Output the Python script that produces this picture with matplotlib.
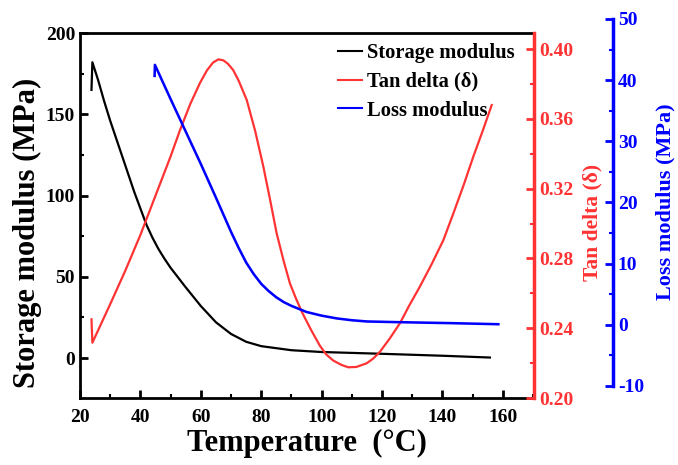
import matplotlib
matplotlib.use("Agg")
import matplotlib.pyplot as plt
from matplotlib.ticker import MultipleLocator, FormatStrFormatter

plt.rcParams['font.family'] = ['Liberation Serif', 'DejaVu Serif']
plt.rcParams['font.weight'] = 'bold'
plt.rcParams['axes.unicode_minus'] = False

# ---- data ----
T_storage = [23.8, 24.1, 26.0, 28.0, 30.0, 32.0, 34.0, 36.0, 38.0, 40.0, 42.0, 44.0,
             46.0, 48.0, 50.0, 55.0, 60.0, 65.0, 70.0, 75.0, 80.0, 90.0, 100.0,
             120.0, 140.0, 155.7]
storage = [165.0, 182.0, 171.0, 158.0, 146.0, 135.0, 124.0, 113.0, 102.0, 92.0, 82.0,
           74.0, 67.0, 61.0, 55.5, 43.5, 32.0, 22.0, 14.8, 10.0, 7.3, 4.8, 3.7,
           2.6, 1.4, 0.3]

T_tan = [23.8, 24.1, 30.0, 35.0, 40.0, 45.0, 50.0, 53.1, 56.5, 59.7, 62.0,
         64.0, 65.8, 67.5, 69.0, 70.7, 72.5, 75.2, 78.0, 80.7, 83.0, 85.1, 87.5,
         89.5, 91.5, 93.4, 96.5, 99.4, 101.5, 103.8, 106.5, 108.8, 111.5, 114.9,
         117.0, 119.3, 122.5, 125.9, 129.0, 132.5, 136.5, 140.3, 143.6, 147.0,
         150.2, 153.5, 156.3]
tan_delta = [0.2451, 0.2317, 0.2538, 0.2730, 0.2935, 0.3160, 0.3385, 0.3535,
             0.3685, 0.3805, 0.3877, 0.3922, 0.3941, 0.3935, 0.3915, 0.3880, 0.3820,
             0.3708, 0.3530, 0.3326, 0.3130, 0.2944, 0.2780, 0.2657, 0.2570, 0.2495,
             0.2390, 0.2300, 0.2250, 0.2215, 0.2190, 0.2176, 0.2178, 0.2199, 0.2225,
             0.2265, 0.2340, 0.2428, 0.2530, 0.2638, 0.2770, 0.2905, 0.3058, 0.3220,
             0.3383, 0.3540, 0.3679]

T_loss = [44.7, 44.8, 50.0, 55.0, 60.0, 65.0, 70.0, 72.5, 75.0, 77.5, 80.0, 82.5,
          85.0, 87.5, 90.0, 95.0, 100.0, 105.0, 110.0, 115.0, 125.0, 142.5, 158.5]
loss = [40.7, 42.5, 36.9, 31.6, 26.3, 20.8, 15.2, 12.6, 10.2, 8.3, 6.7, 5.5, 4.5,
        3.7, 3.1, 2.1, 1.5, 1.05, 0.75, 0.55, 0.44, 0.28, 0.1]

x_ticks = [20, 40, 60, 80, 100, 120, 140, 160]
left_ticks = [0, 50, 100, 150, 200]
tan_ticks = [0.20, 0.24, 0.28, 0.32, 0.36, 0.40]
loss_ticks = [-10, 0, 10, 20, 30, 40, 50]

W, H = 678, 465
fig = plt.figure(figsize=(W / 100, H / 100), dpi=100)

L, R, B, Tp = 80, 534, 398, 33
ax = fig.add_axes([L / W, 1 - B / H, (R - L) / W, (B - Tp) / H])
ax2 = ax.twinx()
lb, lt = 386, 19
ax3 = fig.add_axes([L / W, 1 - lb / H, (R - L) / W, (lb - lt) / H])
ax3.patch.set_visible(False)

red = '#ff3333'
blue = '#0000ff'
lw = 1.6
l1, = ax.plot(T_storage, storage, color='black', lw=lw, label='Storage modulus')
l2, = ax2.plot(T_tan, tan_delta, color=red, lw=lw, label='Tan delta (δ)')
l3, = ax3.plot(T_loss, loss, color=blue, lw=lw * 1.15, label='Loss modulus')

ax.set_xlim(20, 170.3)
ax3.set_xlim(20, 170.3)
ax.set_ylim(-24.6, 200)
ax2.set_ylim(0.20, 0.4092)
ax3.set_ylim(-10, 50)

tick_fs = 14
sw = 2.0
# main axes
ax.set_xticks(x_ticks)
ax.set_yticks(left_ticks)
ax.xaxis.set_minor_locator(MultipleLocator(10))
ax.yaxis.set_minor_locator(MultipleLocator(25))
ax.tick_params(axis='both', which='major', direction='in', length=6, width=2,
               labelsize=tick_fs, colors='black')
ax.tick_params(axis='both', which='minor', direction='in', length=3, width=1.5)
ax.tick_params(axis='x', pad=8)
for s in ['left', 'bottom', 'top']:
    ax.spines[s].set_linewidth(sw)
ax.spines['right'].set_visible(False)

# tan axis
ax2.set_yticks(tan_ticks)
ax2.yaxis.set_major_formatter(FormatStrFormatter('%.2f'))
ax2.yaxis.set_minor_locator(MultipleLocator(0.02))
ax2.tick_params(axis='y', which='major', direction='in', length=6, width=2,
                labelsize=tick_fs, colors=red)
ax2.tick_params(axis='y', which='minor', direction='in', length=3, width=1.5, colors=red)
for s in ['left', 'bottom', 'top']:
    ax2.spines[s].set_visible(False)
ax2.spines['right'].set_color(red)
ax2.spines['right'].set_linewidth(sw + 0.5)

# loss axis
for s in ['left', 'bottom', 'top']:
    ax3.spines[s].set_visible(False)
ax3.spines['right'].set_position(('axes', (613 - L) / (R - L)))
ax3.spines['right'].set_color(blue)
ax3.spines['right'].set_linewidth(sw + 0.5)
ax3.yaxis.set_ticks_position('right')
ax3.yaxis.set_label_position('right')
ax3.set_xticks([])
ax3.set_yticks(loss_ticks)
ax3.yaxis.set_minor_locator(MultipleLocator(5))
ax3.tick_params(axis='y', which='major', direction='in', length=6, width=2,
                labelsize=tick_fs, colors=blue)
ax3.tick_params(axis='y', which='minor', direction='in', length=3, width=1.5, colors=blue)

for a in (ax, ax2, ax3):
    for lab in a.get_xticklabels() + a.get_yticklabels():
        lab.set_fontweight('bold')

# labels
fig.text(27 / W, 1 - 233 / H, 'Storage modulus (MPa)', rotation=90, ha='center',
         va='center', fontsize=22, fontweight='bold')
fig.text(307 / W, 1 - 443 / H, 'Temperature  (°C)', ha='center', va='center',
         fontsize=22, fontweight='bold')
fig.text(592 / W, 1 - 222 / H, 'Tan delta (δ)', rotation=90, ha='center',
         va='center', fontsize=15.5, fontweight='bold', color=red)
fig.text(665 / W, 1 - 202 / H, 'Loss modulus (MPa)', rotation=90, ha='center',
         va='center', fontsize=16, fontweight='bold', color=blue)

leg = ax.legend(handles=[l1, l2, l3], loc='upper right', frameon=False,
                bbox_to_anchor=((525 - L) / (R - L), 1.0),
                prop={'family': 'Liberation Serif', 'weight': 'bold', 'size': 14.8},
                handlelength=1.15, handletextpad=0.25, labelspacing=0.42,
                borderaxespad=0.1)
for h in leg.legend_handles:
    h.set_linewidth(1.5)

fig.savefig('out.png', dpi=100)
